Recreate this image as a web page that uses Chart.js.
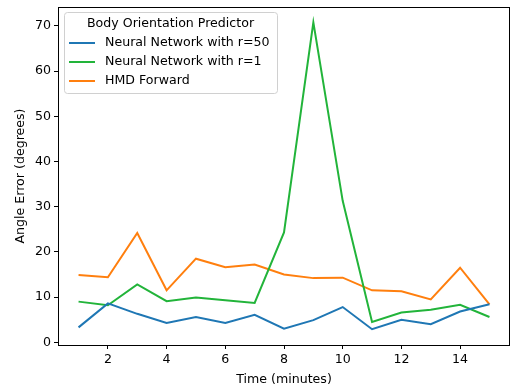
<!DOCTYPE html>
<html>
<head>
<meta charset="utf-8">
<script src="https://cdn.jsdelivr.net/npm/chart.js@4"></script>
<style>
  html, body { margin: 0; padding: 0; background: #fff; }
  #wrap { width: 511px; height: 387px; }
</style>
</head>
<body>
<div id="wrap"><canvas id="chart" width="511" height="387"></canvas></div>
<script>
// 시간 (분)
const minutes = [1, 2, 3, 4, 5, 6, 7, 8, 9, 10, 11, 12, 13, 14, 15];
const nnR50 = [3.3, 8.6, 6.3, 4.3, 5.6, 4.3, 6.1, 3.0, 4.9, 7.8, 2.9, 5.0, 4.0, 6.8, 8.4];
const nnR1 = [9.0, 8.2, 12.8, 9.1, 9.9, 9.3, 8.7, 24.3, 70.8, 31.3, 4.5, 6.6, 7.2, 8.3, 5.6];
const hmdForward = [14.9, 14.4, 24.2, 11.5, 18.5, 16.6, 17.2, 15.0, 14.2, 14.3, 11.5, 11.3, 9.5, 16.5, 8.4];
const xTicks = [2, 4, 6, 8, 10, 12, 14];
const yTicks = [0, 10, 20, 30, 40, 50, 60, 70];

const FONT = "DejaVu Sans";
const FS = 12.6;

function toPoints(ys) {
  return minutes.map((x, i) => ({ x: x, y: ys[i] }));
}

// 축 테두리
const frame = {
  id: "frame",
  afterDatasetsDraw(chart) {
    const a = chart.chartArea;
    const ctx = chart.ctx;
    ctx.save();
    ctx.strokeStyle = "#000";
    ctx.lineWidth = 1;
    ctx.strokeRect(Math.round(a.left) + 0.5, Math.round(a.top) + 0.5,
      Math.round(a.right - a.left) - 1, Math.round(a.bottom - a.top));
    ctx.restore();
  },
};

// 차트 안쪽 범례
const innerLegend = {
  id: "innerLegend",
  afterDraw(chart) {
    const ctx = chart.ctx;
    const x0 = 64, y0 = 12, w = 213, h = 81;
    ctx.save();
    ctx.fillStyle = "rgba(255,255,255,0.8)";
    ctx.strokeStyle = "#d0d0d0";
    ctx.lineWidth = 1;
    ctx.beginPath();
    ctx.roundRect(x0 + 0.5, y0 + 0.5, w, h, 3);
    ctx.fill();
    ctx.stroke();
    ctx.fillStyle = "#000";
    ctx.font = FS + "px '" + FONT + "'";
    ctx.textBaseline = "middle";
    ctx.textAlign = "center";
    ctx.fillText("Body Orientation Predictor", x0 + w / 2, y0 + 12);
    ctx.textAlign = "left";
    chart.data.datasets.forEach((ds, i) => {
      const y = y0 + 31 + i * 19;
      ctx.strokeStyle = ds.borderColor;
      ctx.lineWidth = 2;
      ctx.beginPath();
      ctx.moveTo(x0 + 5, y);
      ctx.lineTo(x0 + 31, y);
      ctx.stroke();
      ctx.fillStyle = "#000";
      ctx.fillText(ds.label, x0 + 41, y);
    });
    ctx.restore();
  },
};

const ctx = document.getElementById("chart").getContext("2d");

new Chart(ctx, {
  type: "line",
  data: {
    datasets: [
      { label: "Neural Network with r=50", data: toPoints(nnR50), borderColor: "#1f77b4" },
      { label: "Neural Network with r=1", data: toPoints(nnR1), borderColor: "#22b43a" },
      { label: "HMD Forward", data: toPoints(hmdForward), borderColor: "#ff7f0e" },
    ],
  },
  options: {
    responsive: false,
    animation: false,
    elements: {
      line: { borderWidth: 2, tension: 0, fill: false },
      point: { radius: 0 },
    },
    layout: { padding: { top: 7, right: 1, left: 13, bottom: 0 } },
    plugins: {
      legend: { display: false },
      tooltip: { enabled: false },
    },
    scales: {
      x: {
        type: "linear",
        min: 0.3,
        max: 15.7,
        afterBuildTicks: (s) => { s.ticks = xTicks.map((v) => ({ value: v })); },
        afterFit: (s) => { s.height = 42; s.paddingLeft = 0; s.paddingRight = 0; },
        grid: { drawOnChartArea: false, color: "#000", tickLength: 4 },
        border: { display: false },
        ticks: { color: "#000", font: { family: FONT, size: FS }, padding: 3, maxRotation: 0 },
        title: { display: true, text: "Time (minutes)", color: "#000", font: { family: FONT, size: FS }, padding: { top: 0, bottom: 0 } },
      },
      y: {
        min: -0.6,
        max: 74.2,
        afterBuildTicks: (s) => { s.ticks = yTicks.map((v) => ({ value: v })); },
        afterFit: (s) => { s.width = 45; s.paddingTop = 0; s.paddingBottom = 0; },
        grid: { drawOnChartArea: false, color: "#000", tickLength: 4 },
        border: { display: false },
        ticks: { color: "#000", font: { family: FONT, size: FS }, padding: 3 },
        title: { display: true, text: "Angle Error (degrees)", color: "#000", font: { family: FONT, size: FS }, padding: { top: 0, bottom: 4 } },
      },
    },
  },
  plugins: [frame, innerLegend],
});
</script>
</body>
</html>
